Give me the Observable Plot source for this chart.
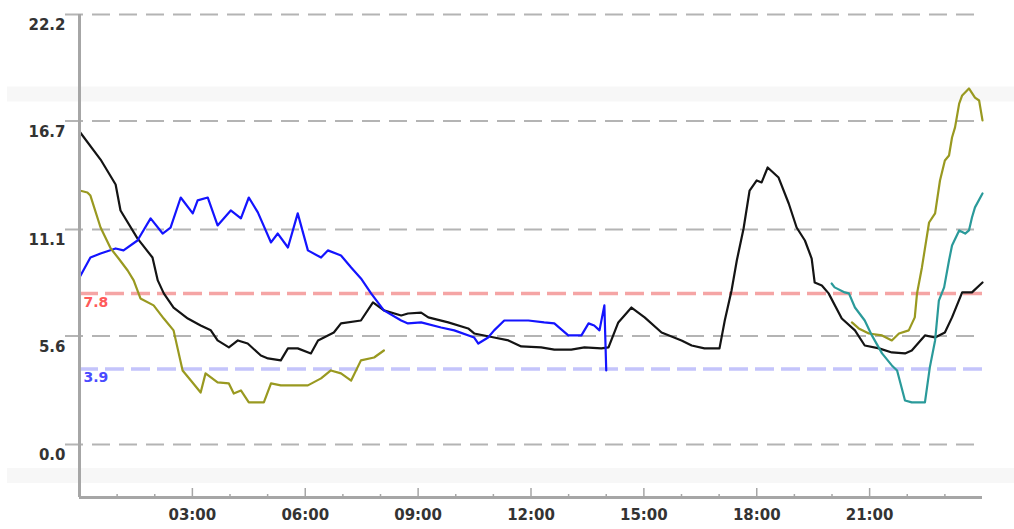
<!DOCTYPE html>
<html><head><meta charset="utf-8">
<script src="https://cdn.jsdelivr.net/npm/d3@7"></script>
<script src="https://cdn.jsdelivr.net/npm/@observablehq/plot@0.6"></script>
<style>body{margin:0;background:#fff}#chart svg{display:block;background:#fff}</style>
</head><body><div id="chart"></div><script>
// ---- data ----
const gridValues = [0, 5.6, 11.1, 16.7, 22.2];
const yTickLabels = ["0.0", "5.6", "11.1", "16.7", "22.2"];
const majorHours = [3, 6, 9, 12, 15, 18, 21];
const xTickLabels = ["03:00", "06:00", "09:00", "12:00", "15:00", "18:00", "21:00"];
const minorHours = [1, 2, 4, 5, 7, 8, 10, 11, 13, 14, 16, 17, 19, 20, 22, 23];
const thresholdValues = [7.8, 3.9];
const thresholdLabels = ["7.8", "3.9"];
const bandValues = [18.1, -1.6];

const blackHours = [0,0.56,0.96,1.09,1.54,1.94,2.08,2.24,2.5,2.88,3.22,3.49,3.67,3.97,4.21,4.47,4.82,5.01,5.35,5.54,5.8,6.15,6.34,6.76,6.95,7.48,7.8,8.09,8.55,8.73,9.08,9.27,9.8,10.33,10.49,11.02,11.4,11.74,12.27,12.62,13.07,13.42,13.87,14.06,14.32,14.67,15.02,15.47,16,16.27,16.61,17.01,17.15,17.33,17.47,17.65,17.81,18,18.13,18.29,18.58,18.85,19.06,19.28,19.46,19.54,19.73,19.91,20.26,20.61,20.87,21.25,21.59,21.94,22.12,22.47,22.74,23,23.19,23.46,23.72,24];
const blackValues = [16.16,14.71,13.42,12.08,10.64,9.65,8.47,7.8,7.07,6.5,6.14,5.89,5.37,5.01,5.37,5.21,4.59,4.44,4.34,4.96,4.96,4.7,5.37,5.78,6.25,6.4,7.33,6.92,6.66,6.76,6.81,6.56,6.3,5.99,5.73,5.52,5.37,5.06,5.01,4.9,4.9,5.01,4.96,5.01,6.3,7.07,6.56,5.78,5.37,5.11,4.96,4.96,6.4,7.95,9.5,11.15,13.11,13.63,13.53,14.3,13.78,12.44,11.2,10.53,9.6,8.36,8.21,7.8,6.5,5.89,5.11,4.96,4.75,4.7,4.85,5.63,5.52,5.78,6.56,7.85,7.85,8.36];

const blueHours = [0,0.29,0.56,0.96,1.17,1.54,1.89,2.21,2.42,2.69,3.01,3.14,3.41,3.67,4.02,4.29,4.5,4.74,5.09,5.27,5.54,5.8,6.07,6.42,6.6,6.95,7.22,7.48,7.75,8.09,8.55,8.73,9.08,9.61,9.96,10.49,10.6,10.86,11.02,11.29,11.93,12.35,12.62,12.99,13.34,13.53,13.68,13.82,13.95,14.0];
const blueValues = [8.62,9.65,9.86,10.12,10.02,10.53,11.67,10.89,11.2,12.75,11.93,12.6,12.75,11.31,12.08,11.67,12.75,11.98,10.43,10.89,10.17,11.93,10.02,9.65,10.02,9.76,9.14,8.57,7.8,6.92,6.4,6.25,6.3,6.04,5.89,5.52,5.21,5.52,5.89,6.4,6.4,6.3,6.25,5.63,5.63,6.25,6.14,5.89,7.18,3.82];

const oliveHours1 = [0,0.21,0.29,0.56,0.83,1.04,1.28,1.44,1.62,1.97,2.24,2.5,2.74,2.96,3.22,3.35,3.67,3.97,4.1,4.29,4.5,4.9,5.09,5.35,6.07,6.42,6.68,6.95,7.22,7.48,7.83,8.09];
const oliveValues1 = [13.11,13.01,12.85,11.2,10.12,9.6,8.98,8.47,7.54,7.18,6.5,5.89,3.82,3.3,2.68,3.67,3.2,3.15,2.63,2.79,2.17,2.17,3.15,3.05,3.05,3.41,3.82,3.67,3.3,4.34,4.49,4.85];
const oliveHours2 = [20.53,20.71,20.98,21.33,21.59,21.78,22.04,22.2,22.26,22.39,22.58,22.74,22.87,23,23.11,23.19,23.27,23.38,23.46,23.64,23.8,23.91,24];
const oliveValues2 = [6.3,5.99,5.73,5.63,5.37,5.73,5.89,6.56,7.8,9.14,11.46,11.93,13.63,14.66,14.92,15.85,16.37,17.6,18.02,18.38,17.91,17.76,16.73];

const tealHours = [19.99,20.07,20.34,20.45,20.61,20.87,21.06,21.33,21.59,21.73,21.94,22.12,22.47,22.6,22.74,22.84,22.98,23.11,23.19,23.38,23.54,23.64,23.72,23.8,24];
const tealValues = [8.31,8.11,7.85,7.8,7.07,6.4,5.63,4.7,4.08,3.82,2.27,2.17,2.17,3.98,5.37,7.43,8.11,9.5,10.27,11.05,10.89,11.05,11.72,12.24,12.96];

// ---- layout ----
const W = 1014, H = 529, mL = 79, mR = 32, mT = 14, mB = 32;
const plotH = H - mT - mB;
const yMin = -2.74, yMax = 22.2;
const font = "DejaVu Sans, Verdana, sans-serif";

const rows = (hs, vs) => hs.map((h, i) => ({h, v: vs[i]}));
const series = [
  {data: rows(blackHours, blackValues), color: "#141414"},
  {data: rows(blueHours, blueValues), color: "#1414ff"},
  {data: rows(oliveHours1, oliveValues1), color: "#999920"},
  {data: rows(oliveHours2, oliveValues2), color: "#999920"},
  {data: rows(tealHours, tealValues), color: "#2a9a9a"}
];

const chart = Plot.plot({
  width: W, height: H,
  marginLeft: mL, marginRight: mR, marginTop: mT, marginBottom: mB,
  style: {fontFamily: font, background: "#fff"},
  x: {domain: [0, 24], axis: null, label: null},
  y: {domain: [yMin, yMax], axis: null, label: null},
  marks: [
    Plot.ruleY(bandValues, {stroke: "#f7f7f7", strokeWidth: 15, insetLeft: -72, insetRight: -32}),
    Plot.ruleY(gridValues, {stroke: "#b4b4b4", strokeWidth: 2, strokeDasharray: "18,9", insetLeft: -14}),
    Plot.ruleY(thresholdValues, {stroke: (d, i) => i === 0 ? "#f5a5a5" : "#c4c4fb", strokeWidth: 3.5, strokeDasharray: "19,7"}),
    Plot.text(thresholdValues, {x: 0, y: d => d, text: (d, i) => thresholdLabels[i], fill: (d, i) => i === 0 ? "#ff5a5a" : "#4b4bff", textAnchor: "start", dx: 4, dy: 9, fontSize: 14, fontWeight: "bold"}),
    ...series.map(s => Plot.line(s.data, {x: "h", y: "v", stroke: s.color, strokeWidth: 2.2})),
    Plot.ruleX([0], {stroke: "#a6a6a6", strokeWidth: 3}),
    Plot.ruleY([yMin], {stroke: "#a6a6a6", strokeWidth: 3}),
    Plot.ruleX(majorHours, {stroke: "#a6a6a6", strokeWidth: 1.5, insetTop: plotH - 9}),
    Plot.ruleX(minorHours, {stroke: "#a6a6a6", strokeWidth: 1.5, insetTop: plotH - 3}),
    Plot.axisX(majorHours, {tickSize: 0, tickPadding: 12, tickFormat: (d, i) => xTickLabels[i], fontSize: 15, fontWeight: "bold", fill: "#333", label: null}),
    Plot.axisY(gridValues, {tickSize: 0, tickPadding: 14, dy: 11, tickFormat: (d, i) => yTickLabels[i], fontSize: 15, fontWeight: "bold", fill: "#333", label: null})
  ]
});
document.getElementById("chart").appendChild(chart);
</script></body></html>
